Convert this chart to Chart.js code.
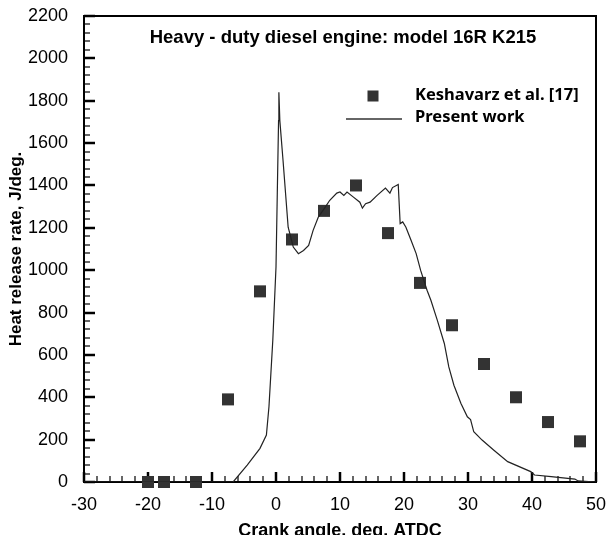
<!DOCTYPE html>
<html>
<head>
<meta charset="utf-8">
<script src="https://cdn.jsdelivr.net/npm/chart.js@4.4.1/dist/chart.umd.min.js"></script>
<style>
  html, body { margin: 0; padding: 0; background: #fff; overflow: hidden; }
  canvas { display: block; }
</style>
</head>
<body>
<canvas id="chart-heat" width="606" height="535"></canvas>
<script>
// Keshavarz et al. [17] - measured points
const refAngle = [-20, -17.5, -12.5, -7.5, -2.5, 2.5, 7.5, 12.5, 17.5, 22.5, 27.5, 32.5, 37.5, 42.5, 47.5];
const refHeat = [0, 0, 0, 390, 900, 1145, 1280, 1400, 1175, 940, 740, 557, 400, 283, 192];

// Present work - simulated curve
const simAngle = [-30, -6.7, -4.5, -2.5, -1.5, -1.1, -0.5, 0.0, 0.2, 0.4, 0.45, 0.6, 1.1, 1.9, 2.7, 3.5, 4.3, 5.1,
                  5.8, 6.6, 7.7, 8.4, 9.5, 10.0, 10.6, 11.1, 12.1, 13.1, 13.5, 14.0, 14.7, 15.8, 17.1, 17.8,
                  18.2, 19.1, 19.4, 19.8, 20.3, 21.1, 21.9, 22.6, 23.6, 24.2, 25.2, 26.3, 27.0, 27.8, 28.9,
                  29.9, 30.4, 30.9, 32.2, 34.0, 36.2, 39.8, 40.4, 43.0, 46.7, 47.2, 50];
const simHeat = [0, 0, 80, 159, 222, 355, 669, 1015, 1361, 1706, 1840, 1706, 1518, 1203, 1109, 1078, 1093, 1117,
                 1188, 1250, 1298, 1330, 1364, 1369, 1353, 1369, 1345, 1321, 1293, 1314, 1321, 1353, 1388, 1364,
                 1390, 1405, 1220, 1228, 1203, 1141, 1078, 999, 905, 858, 764, 654, 543, 457, 371,
                 308, 295, 237, 198, 151, 96, 49, 33, 25, 14, 5, 0];

const xTicks = [-30, -20, -10, 0, 10, 20, 30, 40, 50];
const yTicks = [0, 200, 400, 600, 800, 1000, 1200, 1400, 1600, 1800, 2000, 2200];

const chartTitle = 'Heavy - duty diesel engine: model 16R K215';
const refLabel = 'Keshavarz et al. [17]';
const simLabel = 'Present work';

let heatCanvas = document.getElementById('chart-heat');

// frame + inward ticks (major and minor), drawn before the markers
const frameTicks = {
   id: 'frameTicks',
   beforeDatasetsDraw(chart) {
      const ctx = chart.ctx;
      const a = chart.chartArea;
      const xs = chart.scales.x;
      const ys = chart.scales.y;
      ctx.save();
      ctx.strokeStyle = '#000';
      ctx.lineWidth = 2;
      ctx.strokeRect(a.left, a.top, a.right - a.left, a.bottom - a.top);
      for (let v = xs.min; v <= xs.max; v += 2) {
         const major = v % 10 === 0;
         const px = Math.round(xs.getPixelForValue(v));
         ctx.lineWidth = major ? 2.5 : 1.2;
         ctx.beginPath();
         ctx.moveTo(px, a.bottom);
         ctx.lineTo(px, a.bottom - (major ? 10 : 6));
         ctx.stroke();
      }
      for (let v = ys.min; v <= ys.max; v += 40) {
         const major = v % 200 === 0;
         const py = Math.round(ys.getPixelForValue(v));
         ctx.lineWidth = major ? 2.5 : 1.2;
         ctx.beginPath();
         ctx.moveTo(a.left, py);
         ctx.lineTo(a.left + (major ? 11 : 6), py);
         ctx.stroke();
      }
      ctx.restore();
   }
};

// title and legend sit inside the plot frame
const innerText = {
   id: 'innerText',
   afterDatasetsDraw(chart) {
      const ctx = chart.ctx;
      const a = chart.chartArea;
      ctx.save();
      ctx.fillStyle = '#000';
      ctx.textBaseline = 'middle';
      ctx.textAlign = 'center';
      ctx.font = 'bold 18.5px "Liberation Sans", Arial, sans-serif';
      ctx.fillText(chartTitle, (a.left + a.right) / 2 + 3, 38);

      // legend
      ctx.textAlign = 'left';
      ctx.font = 'bold 16.5px "Noto Sans", sans-serif';
      ctx.fillStyle = '#333';
      ctx.fillRect(373 - 5.5, 96 - 5.5, 11, 11);
      ctx.fillStyle = '#000';
      ctx.fillText(refLabel, 415, 95);
      ctx.strokeStyle = '#666';
      ctx.lineWidth = 2;
      ctx.beginPath();
      ctx.moveTo(346, 119);
      ctx.lineTo(402, 119);
      ctx.stroke();
      ctx.fillText(simLabel, 415, 117);
      ctx.restore();
   }
};

let heatChart = new Chart(heatCanvas, {
   type: 'scatter',
   data: {
      datasets: [{
         label: simLabel,
         data: simAngle.map((x, i) => ({ x: x, y: simHeat[i] })),
         showLine: true,
         borderColor: '#222',
         borderWidth: 1.2,
         pointRadius: 0,
         tension: 0
      }, {
         label: refLabel,
         data: refAngle.map((x, i) => ({ x: x, y: refHeat[i] })),
         pointStyle: 'rect',
         pointRadius: 8.5,
         backgroundColor: '#333',
         borderColor: '#333',
         borderWidth: 0,
         clip: false
      }]
   },
   options: {
      responsive: false,
      devicePixelRatio: 1,
      animation: false,
      layout: {
         padding: { top: 16, right: 10, left: 0, bottom: 0 }
      },
      plugins: {
         legend: { display: false },
         tooltip: { enabled: false }
      },
      scales: {
         x: {
            type: 'linear',
            min: -30,
            max: 50,
            afterBuildTicks: (s) => { s.ticks = xTicks.map(v => ({ value: v })); },
            afterFit: (s) => { s.height = 53; s.paddingLeft = 0; s.paddingRight = 0; },
            grid: { display: false, drawTicks: false },
            border: { display: false },
            ticks: {
               color: '#000',
               padding: 12,
               maxRotation: 0,
               callback: (v) => String(v),
               font: { family: '"Liberation Sans", Arial, sans-serif', size: 18 }
            },
            title: {
               display: true,
               text: 'Crank angle, deg. ATDC',
               color: '#000',
               padding: { top: 0, bottom: -7 },
               font: { family: '"Liberation Sans", Arial, sans-serif', size: 18, weight: 'bold' }
            }
         },
         y: {
            type: 'linear',
            min: 0,
            max: 2200,
            afterBuildTicks: (s) => { s.ticks = yTicks.map(v => ({ value: v })); },
            afterFit: (s) => { s.width = 84; s.paddingTop = 0; s.paddingBottom = 0; },
            grid: { display: false, drawTicks: false },
            border: { display: false },
            ticks: {
               color: '#000',
               padding: 16,
               callback: (v) => String(v),
               font: { family: '"Liberation Sans", Arial, sans-serif', size: 18 }
            },
            title: {
               display: true,
               text: 'Heat release rate, J/deg.',
               color: '#000',
               padding: { top: 6, bottom: 0 },
               font: { family: '"Liberation Sans", Arial, sans-serif', size: 17, weight: 'bold' }
            }
         }
      }
   },
   plugins: [frameTicks, innerText]
});
</script>
</body>
</html>
